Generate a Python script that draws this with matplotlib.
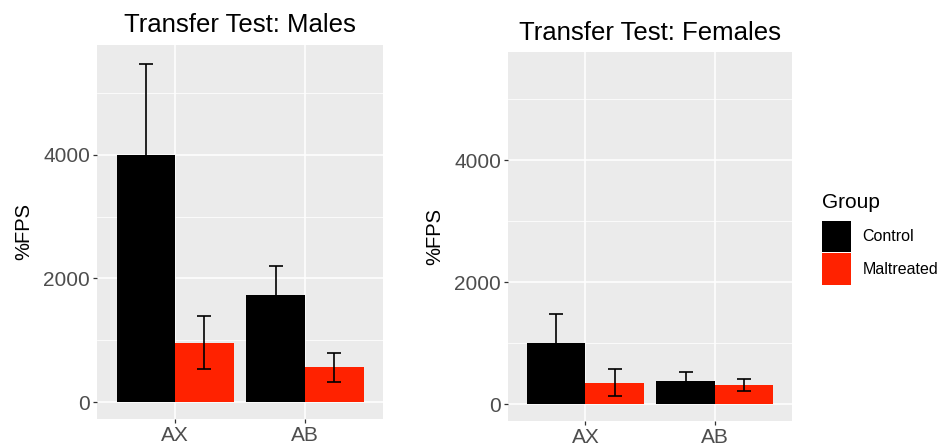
import numpy as np
import matplotlib.pyplot as plt
from matplotlib.patches import Patch
from matplotlib.ticker import MultipleLocator

plt.rcParams['font.family'] = ['Liberation Sans', 'DejaVu Sans']

cues = ["AX", "AB"]
groups = ["Control", "Maltreated"]
colors = ["#000000", "#FF2200"]

# mean %FPS and standard error, per cue
male_mean = {"Control": [4000, 1725], "Maltreated": [960, 560]}
male_se = {"Control": [1465, 480], "Maltreated": [425, 240]}
female_mean = {"Control": [1000, 378], "Maltreated": [355, 310]}
female_se = {"Control": [475, 150], "Maltreated": [220, 100]}

W, H = 942, 448
fig = plt.figure(figsize=(W / 100, H / 100), dpi=100)


def px_axes(x0, y0, x1, y1):
    return fig.add_axes([x0 / W, 1 - y1 / H, (x1 - x0) / W, (y1 - y0) / H])


def draw_panel(ax, means, ses, title):
    ax.set_facecolor("#EBEBEB")
    x = np.arange(1, len(cues) + 1)
    bw = 0.45
    for i, g in enumerate(groups):
        xs = x + (i - 0.5) * bw
        ax.bar(xs, means[g], width=bw, color=colors[i], zorder=2)
        ax.errorbar(xs, means[g], yerr=ses[g], fmt="none", ecolor="black",
                    elinewidth=1.2, capsize=4.7, capthick=1.2, zorder=3)
    ax.set_xlim(0.4, 2.6)
    ax.set_ylim(-275, 5775)
    ax.set_xticks(x)
    ax.set_xticklabels(cues)
    ax.yaxis.set_major_locator(MultipleLocator(2000))
    ax.yaxis.set_minor_locator(MultipleLocator(1000))
    ax.grid(which="major", color="white", linewidth=1.1, zorder=0)
    ax.grid(which="minor", axis="y", color="white", linewidth=0.55, zorder=0)
    ax.set_axisbelow(True)
    for s in ax.spines.values():
        s.set_visible(False)
    ax.tick_params(which="major", length=3, width=0.9, color="#333333",
                   labelcolor="#4D4D4D", labelsize=15, pad=2)
    ax.tick_params(which="minor", length=0)
    ax.set_title(title, fontsize=18.5, pad=9)
    ax.set_ylabel("%FPS", fontsize=14.5)


ax1 = px_axes(97, 45, 383, 419)
draw_panel(ax1, male_mean, male_se, "Transfer Test: Males")
ax1.yaxis.set_label_coords((33 - 97) / 286, 0.5)

ax2 = px_axes(508, 52, 792, 421)
draw_panel(ax2, female_mean, female_se, "Transfer Test: Females")
ax2.yaxis.set_label_coords((444 - 508) / 284, 0.5)

# legend: title as its own text, keys below it
fig.text(822 / W, 1 - 208 / H, "Group", fontsize=15, ha="left", va="baseline")
handles = [Patch(facecolor=c, edgecolor="none") for c in colors]
leg = fig.legend(handles, groups, loc="upper left",
                 bbox_to_anchor=(822 / W, 1 - 221 / H), frameon=False,
                 fontsize=11.5, handlelength=1.8, handleheight=2.62,
                 labelspacing=0.08, handletextpad=0.72,
                 borderpad=0, borderaxespad=0)

fig.savefig("out.png", dpi=100)
